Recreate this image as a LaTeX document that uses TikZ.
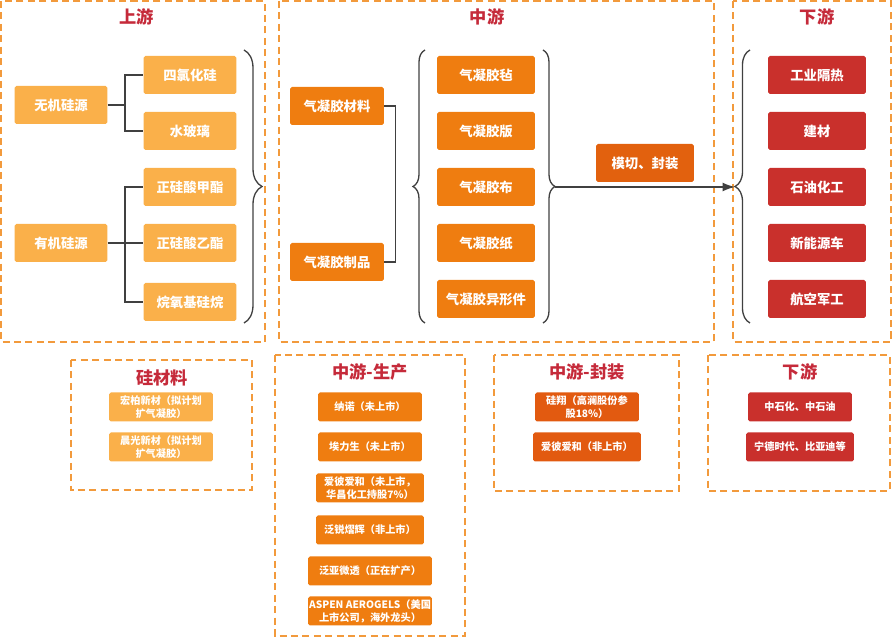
\documentclass[tikz,border=0pt]{standalone}
\usepackage{fontspec}
\newfontfamily\cjk{Noto Sans CJK SC}
\usepackage{tikz}
\usetikzlibrary{positioning, calc, arrows, arrows.meta, decorations.pathreplacing}
\definecolor{upc}{HTML}{FAB04A}
\definecolor{midc}{HTML}{EF7D10}
\definecolor{cutc}{HTML}{E2610E}
\definecolor{pkgc}{HTML}{E25A10}
\definecolor{downc}{HTML}{C9302C}
\definecolor{titlec}{HTML}{C52A3A}
\definecolor{framec}{HTML}{F29A3C}
\definecolor{linec}{HTML}{404040}

\begin{document}
\begin{tikzpicture}[x=0.02cm, y=-0.02cm,
  frame/.style={draw=framec, line width=1.1pt, dash pattern=on 4pt off 2.5pt},
  title/.style={text=titlec, font=\cjk\bfseries\fontsize{9.8}{12}\selectfont},
  box/.style={text=white, inner sep=0pt, rounded corners=1pt, minimum height=0.76cm, align=center, font=\cjk\bfseries\fontsize{7.6}{9}\selectfont},
  upbox/.style={box, fill=upc, minimum width=1.86cm},
  midbox/.style={box, fill=midc, minimum width=1.96cm},
  downbox/.style={box, fill=downc, minimum width=1.96cm},
  small/.style={box, minimum height=0.58cm, minimum width=2.08cm, font=\cjk\bfseries\fontsize{5.8}{7.5}\selectfont},
  link/.style={draw=linec, line width=0.75pt},
  brace/.style={link, decorate, decoration={brace, amplitude=#1}}]
\useasboundingbox (0,0) rectangle (894,638);
% frames
\draw[frame] (1,1) rectangle (265,342);
\draw[frame] (279,1) rectangle (714,342);
\draw[frame] (733,1) rectangle (891,342);
\draw[frame] (71,360) rectangle (252,490);
\draw[frame] (275,355) rectangle (465,636);
\draw[frame] (494,355) rectangle (679,491);
\draw[frame] (708,355) rectangle (890,491);
% titles
\node[title] (uptitle) at (137,17) {上游};
\node[title] (midtitle) at (487,17) {中游};
\node[title] (downtitle) at (817,17) {下游};
\node[title] (sititle) at (162,378) {硅材料};
\node[title] (prodtitle) at (370,372) {中游-生产};
\node[title] (pkgtitle) at (587,372) {中游-封装};
\node[title] (dtitle) at (800,372) {下游};
% upstream
\node[upbox] (inorg) at (61,105) {无机硅源};
\node[upbox] (org) at (61,243) {有机硅源};
\node[upbox] (sicl) at (190,75) {四氯化硅};
\node[upbox] (glass) at (190,131) {水玻璃};
\node[upbox] (tms) at (190,187) {正硅酸甲酯};
\node[upbox] (tes) at (190,243) {正硅酸乙酯};
\node[upbox] (alk) at (190,302) {烷氧基硅烷};
\draw[link] (inorg.east) -- ++(17,0) |- (sicl.west);
\draw[link] (inorg.east) -- ++(17,0) |- (glass.west);
\draw[link] (org.east) -- ++(17,0) |- (tms.west);
\draw[link] (org.east) -- ++(17,0) |- (tes.west);
\draw[link] (org.east) -- ++(17,0) |- (alk.west);
\draw[brace=0.36cm] (244,50) -- (244,323);
% midstream
\node[midbox, minimum width=1.88cm] (mat) at (337,106) {气凝胶材料};
\node[midbox, minimum width=1.88cm] (prod) at (337,262) {气凝胶制品};
\draw[link] (mat.east) -- ++(11,0) |- (prod.east);
\node[midbox] (felt) at (486,75) {气凝胶毡};
\node[midbox] (board) at (486,131) {气凝胶版};
\node[midbox] (cloth) at (486,187) {气凝胶布};
\node[midbox] (paper) at (486,243) {气凝胶纸};
\node[midbox] (part) at (486,299) {气凝胶异形件};
\draw[brace=0.24cm] (425,323) -- (425,50);
\draw[brace=0.24cm] (543,50) -- (543,323);
\node[midbox, fill=cutc] (cut) at (645,163) {模切、封装};
% downstream
\node[downbox] (ins) at (817,75) {工业隔热};
\node[downbox] (build) at (817,131) {建材};
\node[downbox] (petro) at (817,187) {石油化工};
\node[downbox] (ev) at (817,243) {新能源车};
\node[downbox] (mil) at (817,299) {航空军工};
\draw[brace=0.3cm] (750,323) -- (750,50);
% arrows
\coordinate (mtip) at (555,187);
\coordinate (dtip) at (735,187);
\draw[link, -{Latex[length=7pt, width=5pt]}] (mtip) -- (dtip);
% companies
\node[small, fill=upc] (hb) at (161,407) {宏柏新材（拟计划\\扩气凝胶）};
\node[small, fill=upc] (cg) at (161,447) {晨光新材（拟计划\\扩气凝胶）};
\node[small, fill=midc] (nn) at (370,407) {纳诺（未上市）};
\node[small, fill=midc] (als) at (370,447) {埃力生（未上市）};
\node[small, fill=midc, minimum width=2.16cm] (abah) at (370,488) {爱彼爱和（未上市，\\华昌化工持股7\%）};
\node[small, fill=midc, minimum width=2.16cm] (fr) at (370,530) {泛锐熠辉（非上市）};
\node[small, fill=midc, minimum width=2.48cm] (fy) at (370,571) {泛亚微透（正在扩产）};
\node[small, fill=midc, minimum width=2.48cm] (aspen) at (370,611) {ASPEN AEROGELS（美国\\上市公司，海外龙头）};
\node[small, fill=pkgc] (gx) at (587,407) {硅翔（高澜股份参\\股18\%）};
\node[small, fill=pkgc, minimum width=2.16cm] (abah2) at (587,447) {爱彼爱和（非上市）};
\node[small, fill=downc] (sino) at (800,407) {中石化、中石油};
\node[small, fill=downc, minimum width=2.16cm] (catl) at (800,447) {宁德时代、比亚迪等};
\end{tikzpicture}
\end{document}
